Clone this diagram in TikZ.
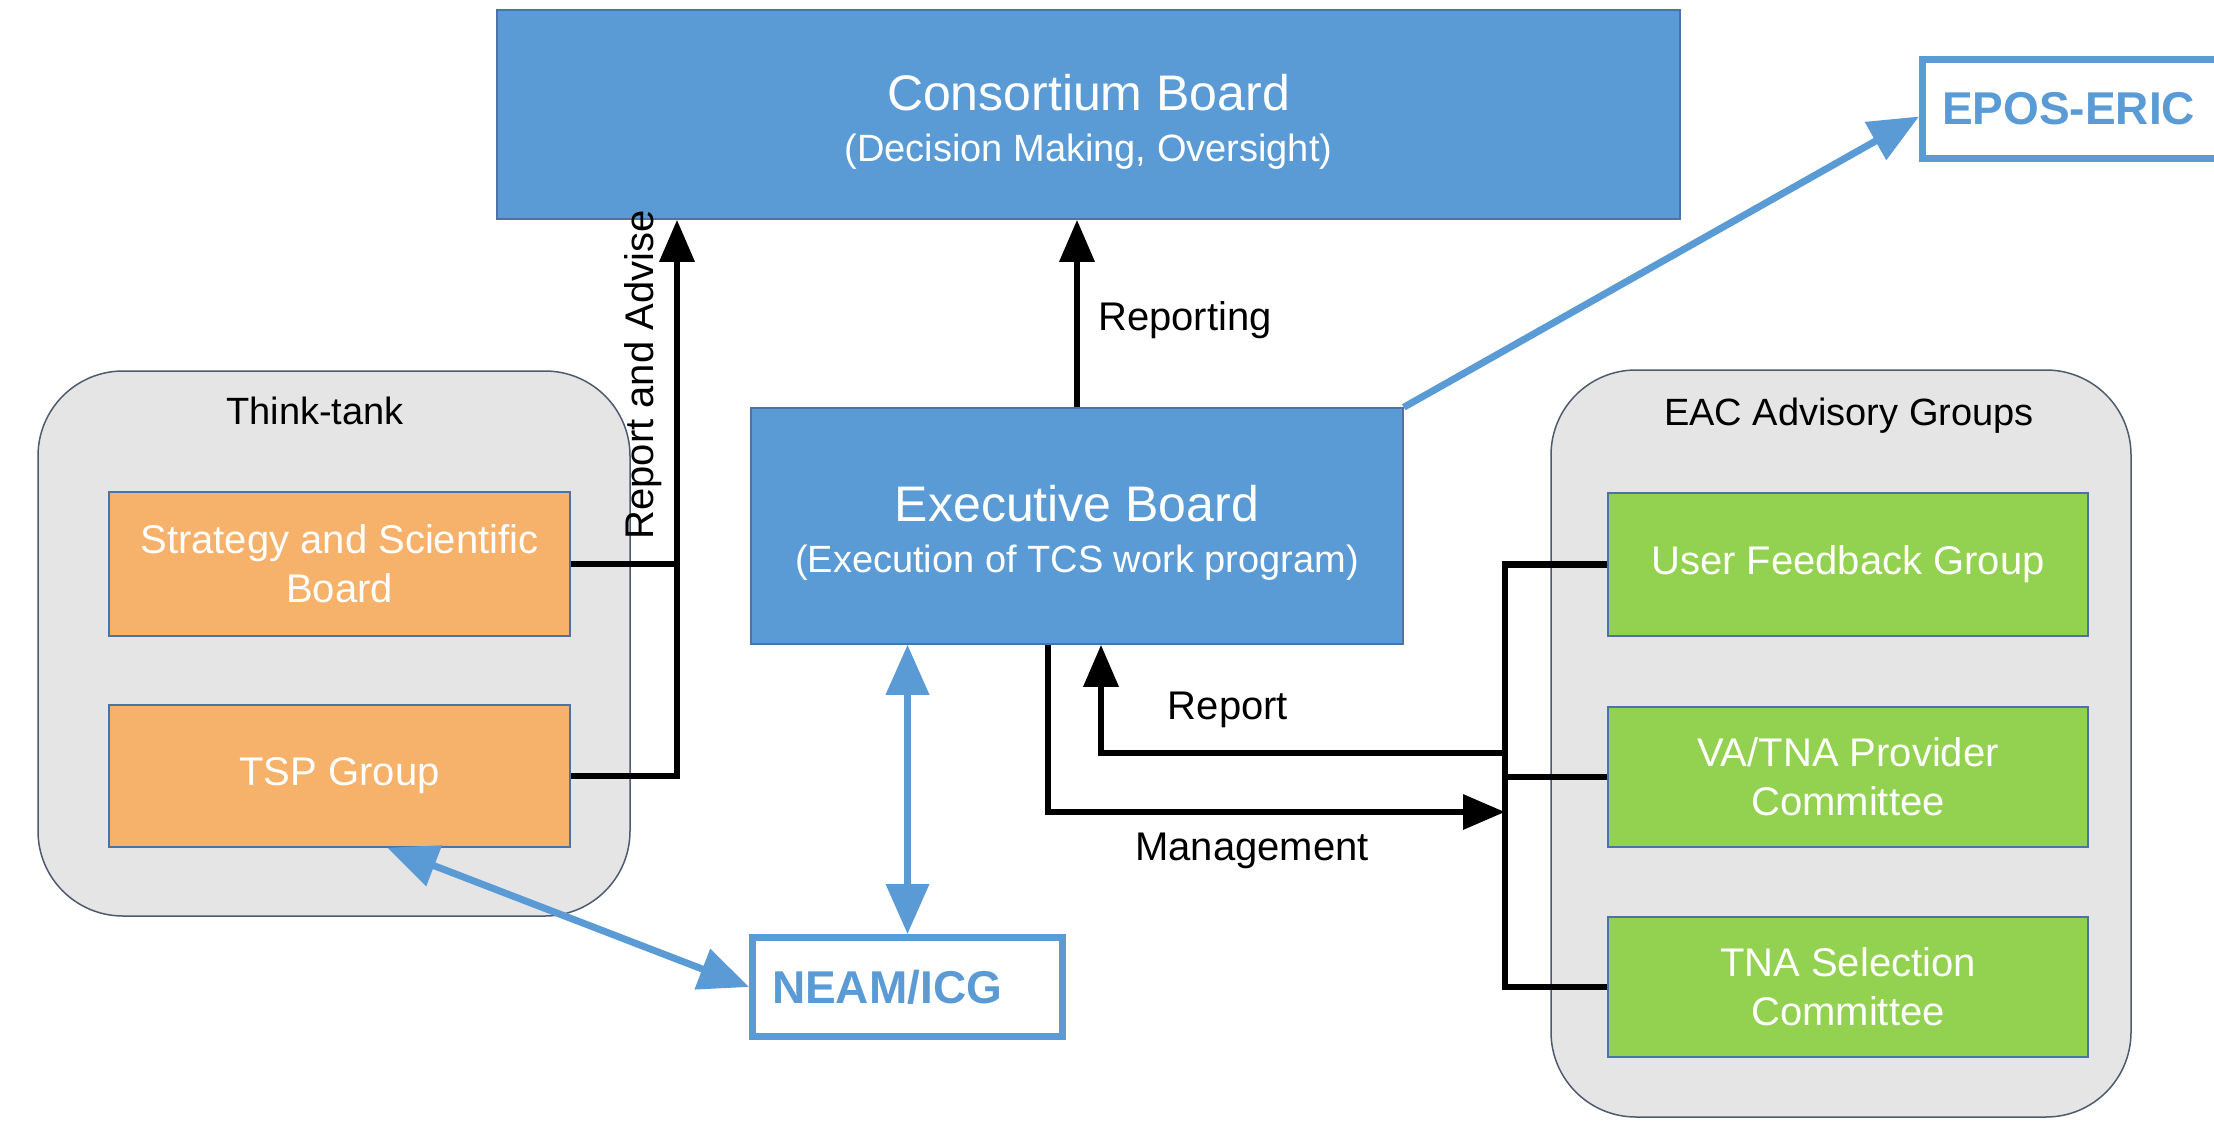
\documentclass[tikz,border=0pt]{standalone}
\usepackage{fontspec}
\setmainfont{Liberation Sans}
\usetikzlibrary{arrows.meta,calc}
\definecolor{boxblue}{HTML}{5B9BD5}
\definecolor{boxorange}{HTML}{F6B26B}
\definecolor{boxgreen}{HTML}{93D150}
\definecolor{panelgray}{HTML}{E5E5E5}
\definecolor{paneledge}{HTML}{4E5B6E}
\definecolor{boxedge}{HTML}{4A74A8}
\begin{document}
\begin{tikzpicture}[x=1pt,y=-1pt,
  panel/.style={draw=paneledge, line width=1.5pt, fill=panelgray, rounded corners=85pt, rectangle, inner sep=0pt},
  solidbox/.style={rectangle, draw=boxedge, line width=1.5pt, inner sep=0pt, text=white, align=center},
  bluebox/.style={solidbox, fill=boxblue, font=\fontsize{38}{51}\selectfont},
  orangebox/.style={solidbox, fill=boxorange, font=\fontsize{40}{49}\selectfont},
  greenbox/.style={solidbox, fill=boxgreen, font=\fontsize{40}{49}\selectfont},
  outlinebox/.style={rectangle, draw=boxblue, line width=7pt, fill=white, text=boxblue, inner ysep=0pt, inner xsep=19.5pt, align=left, font=\bfseries\fontsize{46}{50}\selectfont},
  paneltitle/.style={font=\fontsize{38}{44}\selectfont, text=black},
  lbl/.style={font=\fontsize{40}{48}\selectfont, text=black},
  blk/.style={draw=black, line width=6.5pt},
  blkarrow/.style={blk, -{Triangle[length=42pt,width=34pt]}},
  blu/.style={draw=boxblue, line width=7pt},
  bluarrow/.style={blu, -{Triangle[length=50pt,width=42pt]}},
  bludouble/.style={blu, {Triangle[length=50pt,width=42pt]}-{Triangle[length=50pt,width=42pt]}}
]
\clip (0,0) rectangle (2214,1120);
\fill[white] (0,0) rectangle (2214,1120);

% panels
\node[panel, minimum width=592pt, minimum height=545pt] (think) at (334,643.5) {};
\node[paneltitle] (thinklbl) at (315,411) {Think-tank};
\node[panel, minimum width=580pt, minimum height=747pt] (eac) at (1841,743.5) {};
\node[paneltitle] (eaclbl) at (1849,416) {EAC Advisory Groups};

% main boxes
\node[bluebox, minimum width=1183pt, minimum height=209pt] (cons) at (1088.5,114.5)
  {{\fontsize{50}{51}\selectfont\rule{0pt}{50pt}Consortium Board}\\ (Decision Making, Oversight)};
\node[bluebox, minimum width=652pt, minimum height=236pt] (exec) at (1077,526)
  {{\fontsize{50}{51}\selectfont\rule{0pt}{50pt}Executive Board}\\ (Execution of TCS work program)};

\node[orangebox, minimum width=461pt, minimum height=144pt] (ssb) at (339.5,564) {Strategy and Scientific\\Board};
\node[orangebox, minimum width=461pt, minimum height=142pt] (tsp) at (339.5,776) {TSP Group};

\node[greenbox, minimum width=480pt, minimum height=143pt] (ufg) at (1848,564.5) {User Feedback Group};
\node[greenbox, minimum width=480pt, minimum height=140pt] (va) at (1848,777) {VA/TNA Provider\\Committee};
\node[greenbox, minimum width=480pt, minimum height=140pt] (tnas) at (1848,987) {TNA Selection\\Committee};

\node[outlinebox, text width=271pt, minimum height=99pt] (neam) at (907.5,987) {NEAM/ICG};
\node[outlinebox, text width=280pt, minimum height=99pt, anchor=west] (epos) at (1919,108.5) {EPOS-ERIC};

% coordinates
\coordinate (ra) at (677,0);
\coordinate (bus) at (1505,0);
\coordinate (rep) at (1101,753);
\coordinate (mg) at (1048,812);

% Report and Advise
\draw[blkarrow] (tsp.east) -| (ra |- cons.south);
\draw[blk] (ssb.east) -- (ssb.east -| ra);
\node[lbl, rotate=90] (ralbl) at (643,375) {Report and Advise};

% Reporting
\draw[blkarrow] (exec.north) -- (exec.north |- cons.south);
\node[lbl] (replbl) at (1185,320) {Reporting};

% EPOS
\draw[bluarrow] (exec.north east) -- ($(epos.west)+(0,8)$);

% NEAM links
\draw[bludouble] (neam.north) -- (neam.north |- exec.south);
\draw[bludouble] ($(tsp.south)+(48,0)$) -- (neam.west);

% bus to advisory groups
\draw[blk] (ufg.west) -| (bus |- tnas.west) -- (tnas.west);
\draw[blk] (va.west) -- (va.west -| bus);

% Report
\draw[blkarrow] (rep -| bus) -- (rep) -- (rep |- exec.south);
\node[lbl] (reportlbl) at (1228,710) {Report};

% Management
\draw[blkarrow] (mg |- exec.south) -- (mg) -- (mg -| bus);
\node[lbl] (mgmtlbl) at (1252,851) {Management};
\end{tikzpicture}
\end{document}
